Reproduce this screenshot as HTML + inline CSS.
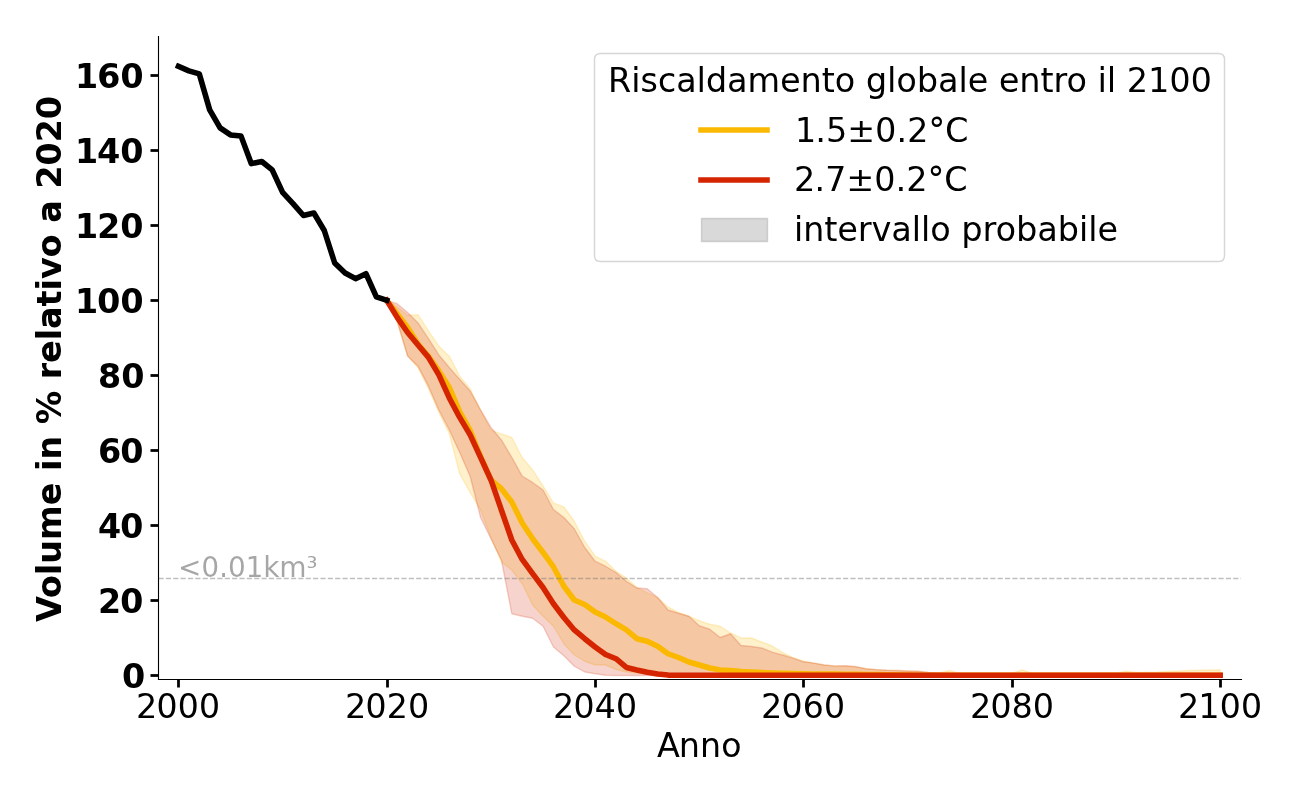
<!DOCTYPE html>
<html lang="it">
<head>
<meta charset="utf-8">
<title>Volume in % relativo a 2020</title>
<style>
html,body{margin:0;padding:0;background:#fff;}
body{width:1300px;height:800px;position:relative;overflow:hidden;font-family:"Liberation Sans",sans-serif;}
#chart{position:absolute;left:0;top:0;width:1300px;height:800px;}
.t{position:absolute;white-space:nowrap;color:transparent;text-align:center;overflow:hidden;margin:0;padding:0;}
</style>
</head>
<body>
<div id="chart">
<svg width="1300" height="800" viewBox="0 0 936 576" style="display:block;position:absolute;left:0;top:0">
 <defs>
  <style type="text/css">*{stroke-linejoin: round; stroke-linecap: butt}</style>
 </defs>
 <g id="figure_1">
  <g id="patch_1">
   <path d="M 0 576 L 936 576 L 936 0 L 0 0 z
" style="fill: #ffffff"/>
  </g>
  <g id="axes_1">
   <g id="patch_2">
    <path d="M 113.472 489.06 L 893.529 489.06 L 893.529 25.92 L 113.472 25.92 z
" style="fill: #ffffff"/>
   </g>
   <g id="FillBetweenPolyCollection_1">
    <defs>
     <path id="m04f5ab2529" d="M 278.484058 -359.765017 L 278.484058 -359.765017 L 285.984606 -344.209994 L 293.485154 -320.013292 L 300.985702 -311.083557 L 308.48625 -296.140653 L 315.986798 -279.037329 L 323.487346 -263.734356 L 330.987894 -234.928758 L 338.488442 -221.426134 L 345.98899 -208.823685 L 353.489538 -189.019837 L 360.990087 -171.376408 L 368.490635 -165.615289 L 375.991183 -155.713364 L 383.491731 -140.410391 L 390.992279 -132.308816 L 398.492827 -125.107417 L 405.993375 -112.504968 L 413.493923 -104.403394 L 420.994471 -99.902519 L 428.495019 -97.201994 L 435.995567 -97.201994 L 443.496115 -93.961364 L 450.996663 -92.161015 L 458.497212 -91.440875 L 465.99776 -90.720735 L 473.498308 -90.576707 L 480.998856 -90.432679 L 488.499404 -90.288651 L 495.999952 -90.144623 L 503.5005 -90.000595 L 511.001048 -90.000595 L 518.501596 -90.000595 L 526.002144 -90.000595 L 533.502692 -90.000595 L 541.00324 -90.000595 L 548.503788 -90.000595 L 556.004337 -90.000595 L 563.504885 -90.000595 L 571.005433 -90.000595 L 578.505981 -90.000595 L 586.006529 -90.000595 L 593.507077 -90.000595 L 601.007625 -90.000595 L 608.508173 -90.000595 L 616.008721 -90.000595 L 623.509269 -90.000595 L 631.009817 -90.000595 L 638.510365 -90.000595 L 646.010913 -90.000595 L 653.511462 -90.000595 L 661.01201 -90.000595 L 668.512558 -90.000595 L 676.013106 -90.000595 L 683.513654 -90.000595 L 691.014202 -90.000595 L 698.51475 -90.000595 L 706.015298 -90.000595 L 713.515846 -90.000595 L 721.016394 -90.000595 L 728.516942 -90.000595 L 736.01749 -90.000595 L 743.518038 -90.000595 L 751.018587 -90.000595 L 758.519135 -90.000595 L 766.019683 -90.000595 L 773.520231 -90.000595 L 781.020779 -90.000595 L 788.521327 -90.000595 L 796.021875 -90.000595 L 803.522423 -90.000595 L 811.022971 -90.000595 L 818.523519 -90.000595 L 826.024067 -90.000595 L 833.524615 -90.000595 L 841.025163 -90.000595 L 848.525712 -90.000595 L 856.02626 -90.000595 L 863.526808 -90.000595 L 871.027356 -90.000595 L 878.527904 -90.000595 L 878.527904 -93.745322 L 878.527904 -93.745322 L 871.027356 -93.57729 L 863.526808 -93.409257 L 856.02626 -93.241224 L 848.525712 -92.881155 L 841.025163 -92.521085 L 833.524615 -92.161015 L 826.024067 -91.98098 L 818.523519 -91.800945 L 811.022971 -92.665113 L 803.522423 -91.440875 L 796.021875 -91.413869 L 788.521327 -91.386864 L 781.020779 -91.359859 L 773.520231 -91.332854 L 766.019683 -91.305848 L 758.519135 -91.278843 L 751.018587 -91.251838 L 743.518038 -91.224833 L 736.01749 -93.745322 L 728.516942 -91.080805 L 721.016394 -91.080805 L 713.515846 -91.080805 L 706.015298 -91.080805 L 698.51475 -91.080805 L 691.014202 -91.080805 L 683.513654 -93.241224 L 676.013106 -91.512889 L 668.512558 -91.872959 L 661.01201 -92.665113 L 653.511462 -92.881155 L 646.010913 -93.241224 L 638.510365 -93.457266 L 631.009817 -93.88935 L 623.509269 -94.537476 L 616.008721 -95.761714 L 608.508173 -96.481854 L 601.007625 -96.481854 L 593.507077 -97.201994 L 586.006529 -98.57026 L 578.505981 -100.082554 L 571.005433 -102.53103 L 563.504885 -106.131729 L 556.004337 -110.884653 L 548.503788 -113.765213 L 541.00324 -116.645773 L 533.502692 -116.645773 L 526.002144 -120.246472 L 518.501596 -125.107417 L 511.001048 -126.547697 L 503.5005 -129.068187 L 495.999952 -132.308816 L 488.499404 -135.009341 L 480.998856 -138.970111 L 473.498308 -145.81144 L 465.99776 -149.05207 L 458.497212 -153.01284 L 450.996663 -159.854169 L 443.496115 -164.715114 L 435.995567 -171.916513 L 428.495019 -175.517213 L 420.994471 -186.319312 L 413.493923 -200.722111 L 405.993375 -210.984105 L 398.492827 -213.864665 L 390.992279 -226.107044 L 383.491731 -237.629283 L 375.991183 -246.631032 L 368.490635 -261.033831 L 360.990087 -263.554321 L 353.489538 -266.43488 L 345.98899 -280.837679 L 338.488442 -296.140653 L 330.987894 -305.142402 L 323.487346 -319.545201 L 315.986798 -326.746601 L 308.48625 -337.728735 L 300.985702 -349.467016 L 293.485154 -349.034932 L 285.984606 -355.012093 L 278.484058 -359.765017 z
" style="stroke: #fbb800; stroke-opacity: 0.2"/>
    </defs>
    <g clip-path="url(#p1fe8e6328f)">
     <use href="#m04f5ab2529" x="0" y="576" style="fill: #fbb800; fill-opacity: 0.2; stroke: #fbb800; stroke-opacity: 0.2"/>
    </g>
   </g>
   <g id="FillBetweenPolyCollection_2">
    <defs>
     <path id="m68aa60224d" d="M 278.484058 -359.765017 L 278.484058 -359.765017 L 285.984606 -344.750099 L 293.485154 -319.545201 L 300.985702 -312.343802 L 308.48625 -297.941003 L 315.986798 -280.837679 L 323.487346 -266.43488 L 330.987894 -250.231732 L 338.488442 -233.128408 L 345.98899 -203.422636 L 353.489538 -188.119662 L 360.990087 -172.816688 L 368.490635 -134.109166 L 375.991183 -132.308816 L 383.491731 -130.868536 L 390.992279 -125.107417 L 398.492827 -110.164513 L 405.993375 -103.863289 L 413.493923 -96.301819 L 420.994471 -92.161015 L 428.495019 -90.90077 L 435.995567 -89.856567 L 443.496115 -89.640525 L 450.996663 -89.640525 L 458.497212 -89.640525 L 465.99776 -89.640525 L 473.498308 -89.640525 L 480.998856 -89.640525 L 488.499404 -89.640525 L 495.999952 -89.640525 L 503.5005 -89.640525 L 511.001048 -89.640525 L 518.501596 -89.640525 L 526.002144 -89.640525 L 533.502692 -89.640525 L 541.00324 -89.640525 L 548.503788 -89.640525 L 556.004337 -89.640525 L 563.504885 -89.640525 L 571.005433 -89.640525 L 578.505981 -89.640525 L 586.006529 -89.640525 L 593.507077 -89.640525 L 601.007625 -89.640525 L 608.508173 -89.640525 L 616.008721 -89.640525 L 623.509269 -89.640525 L 631.009817 -89.640525 L 638.510365 -89.640525 L 646.010913 -89.640525 L 653.511462 -89.640525 L 661.01201 -89.640525 L 668.512558 -89.640525 L 676.013106 -89.640525 L 683.513654 -89.640525 L 691.014202 -89.640525 L 698.51475 -89.640525 L 706.015298 -89.640525 L 713.515846 -89.640525 L 721.016394 -89.640525 L 728.516942 -89.640525 L 736.01749 -89.640525 L 743.518038 -89.640525 L 751.018587 -89.640525 L 758.519135 -89.640525 L 766.019683 -89.640525 L 773.520231 -89.640525 L 781.020779 -89.640525 L 788.521327 -89.640525 L 796.021875 -89.640525 L 803.522423 -89.640525 L 811.022971 -89.640525 L 818.523519 -89.640525 L 826.024067 -89.640525 L 833.524615 -89.640525 L 841.025163 -89.640525 L 848.525712 -89.640525 L 856.02626 -89.640525 L 863.526808 -89.640525 L 871.027356 -89.640525 L 878.527904 -89.640525 L 878.527904 -90.720735 L 878.527904 -90.720735 L 871.027356 -90.720735 L 863.526808 -90.720735 L 856.02626 -90.720735 L 848.525712 -90.720735 L 841.025163 -90.720735 L 833.524615 -90.720735 L 826.024067 -90.720735 L 818.523519 -90.720735 L 811.022971 -90.720735 L 803.522423 -90.720735 L 796.021875 -90.720735 L 788.521327 -90.720735 L 781.020779 -90.720735 L 773.520231 -90.720735 L 766.019683 -90.720735 L 758.519135 -90.720735 L 751.018587 -90.720735 L 743.518038 -90.720735 L 736.01749 -90.720735 L 728.516942 -90.720735 L 721.016394 -90.780746 L 713.515846 -90.840758 L 706.015298 -90.90077 L 698.51475 -90.960781 L 691.014202 -91.020793 L 683.513654 -91.080805 L 676.013106 -91.512889 L 668.512558 -91.872959 L 661.01201 -92.665113 L 653.511462 -92.881155 L 646.010913 -93.241224 L 638.510365 -93.457266 L 631.009817 -93.88935 L 623.509269 -94.537476 L 616.008721 -96.121784 L 608.508173 -96.697896 L 601.007625 -96.553868 L 593.507077 -97.201994 L 586.006529 -98.57026 L 578.505981 -99.506442 L 571.005433 -102.098946 L 563.504885 -104.403394 L 556.004337 -106.419785 L 548.503788 -109.444373 L 541.00324 -110.524583 L 533.502692 -111.244723 L 526.002144 -119.706367 L 518.501596 -117.005843 L 511.001048 -122.946997 L 503.5005 -125.467487 L 495.999952 -132.308816 L 488.499404 -134.469236 L 480.998856 -136.809691 L 473.498308 -145.81144 L 465.99776 -152.112665 L 458.497212 -152.65277 L 450.996663 -157.513714 L 443.496115 -163.814939 L 435.995567 -168.315813 L 428.495019 -171.916513 L 420.994471 -181.818437 L 413.493923 -195.321061 L 405.993375 -203.422636 L 398.492827 -209.183755 L 390.992279 -223.226484 L 383.491731 -228.627534 L 375.991183 -233.128408 L 368.490635 -246.631032 L 360.990087 -259.233481 L 353.489538 -268.23523 L 345.98899 -280.837679 L 338.488442 -294.520338 L 330.987894 -302.873962 L 323.487346 -311.443627 L 315.986798 -320.445376 L 308.48625 -332.14765 L 300.985702 -343.489854 L 293.485154 -351.051324 L 285.984606 -357.352548 L 278.484058 -359.765017 z
" style="stroke: #d42500; stroke-opacity: 0.2"/>
    </defs>
    <g clip-path="url(#p1fe8e6328f)">
     <use href="#m68aa60224d" x="0" y="576" style="fill: #d42500; fill-opacity: 0.2; stroke: #d42500; stroke-opacity: 0.2"/>
    </g>
   </g>
   <g id="matplotlib.axis_1">
    <g id="xtick_1">
     <g id="line2d_1">
      <defs>
       <path id="mb92f15c8f1" d="M 0 0 L 0 5.76" style="stroke: #000000; stroke-width: 2"/>
      </defs>
      <g>
       <use href="#mb92f15c8f1" x="128.520000" y="489.240000" style="stroke: #000000; stroke-width: 2"/>
      </g>
     </g>
     </g>
    <g id="xtick_2">
     <g id="line2d_2">
      <g>
       <use href="#mb92f15c8f1" x="279.000000" y="489.240000" style="stroke: #000000; stroke-width: 2"/>
      </g>
     </g>
     </g>
    <g id="xtick_3">
     <g id="line2d_3">
      <g>
       <use href="#mb92f15c8f1" x="428.760000" y="489.240000" style="stroke: #000000; stroke-width: 2"/>
      </g>
     </g>
     </g>
    <g id="xtick_4">
     <g id="line2d_4">
      <g>
       <use href="#mb92f15c8f1" x="578.520000" y="489.240000" style="stroke: #000000; stroke-width: 2"/>
      </g>
     </g>
     </g>
    <g id="xtick_5">
     <g id="line2d_5">
      <g>
       <use href="#mb92f15c8f1" x="729.000000" y="489.240000" style="stroke: #000000; stroke-width: 2"/>
      </g>
     </g>
     </g>
    <g id="xtick_6">
     <g id="line2d_6">
      <g>
       <use href="#mb92f15c8f1" x="878.760000" y="489.240000" style="stroke: #000000; stroke-width: 2"/>
      </g>
     </g>
     </g>
    </g>
   <g id="matplotlib.axis_2">
    <g id="ytick_1">
     <g id="line2d_7">
      <defs>
       <path id="m4a1751d23b" d="M 0 0 L -5.76 0" style="stroke: #000000; stroke-width: 2"/>
      </defs>
      <g>
       <use href="#m4a1751d23b" x="114.120000" y="486.360000" style="stroke: #000000; stroke-width: 2"/>
      </g>
     </g>
     </g>
    <g id="ytick_2">
     <g id="line2d_8">
      <g>
       <use href="#m4a1751d23b" x="114.120000" y="432.360000" style="stroke: #000000; stroke-width: 2"/>
      </g>
     </g>
     </g>
    <g id="ytick_3">
     <g id="line2d_9">
      <g>
       <use href="#m4a1751d23b" x="114.120000" y="378.360000" style="stroke: #000000; stroke-width: 2"/>
      </g>
     </g>
     </g>
    <g id="ytick_4">
     <g id="line2d_10">
      <g>
       <use href="#m4a1751d23b" x="114.120000" y="324.360000" style="stroke: #000000; stroke-width: 2"/>
      </g>
     </g>
     </g>
    <g id="ytick_5">
     <g id="line2d_11">
      <g>
       <use href="#m4a1751d23b" x="114.120000" y="270.360000" style="stroke: #000000; stroke-width: 2"/>
      </g>
     </g>
     </g>
    <g id="ytick_6">
     <g id="line2d_12">
      <g>
       <use href="#m4a1751d23b" x="114.120000" y="216.360000" style="stroke: #000000; stroke-width: 2"/>
      </g>
     </g>
     </g>
    <g id="ytick_7">
     <g id="line2d_13">
      <g>
       <use href="#m4a1751d23b" x="114.120000" y="162.360000" style="stroke: #000000; stroke-width: 2"/>
      </g>
     </g>
     </g>
    <g id="ytick_8">
     <g id="line2d_14">
      <g>
       <use href="#m4a1751d23b" x="114.120000" y="108.360000" style="stroke: #000000; stroke-width: 2"/>
      </g>
     </g>
     </g>
    <g id="ytick_9">
     <g id="line2d_15">
      <g>
       <use href="#m4a1751d23b" x="114.120000" y="54.360000" style="stroke: #000000; stroke-width: 2"/>
      </g>
     </g>
     </g>
    </g>
   <g id="line2d_16">
    <path d="M 278.484058 216.234983 L 285.984606 226.028886 L 293.485154 235.750776 L 300.985702 247.633085 L 308.48625 256.490806 L 315.986798 267.076863 L 323.487346 278.959172 L 330.987894 296.602601 L 338.488442 309.92519 L 345.98899 328.648828 L 353.489538 345.572117 L 360.990087 351.873341 L 368.490635 361.415195 L 375.991183 376.538134 L 383.491731 387.880338 L 390.992279 397.782262 L 398.492827 408.224292 L 405.993375 422.086985 L 413.493923 431.98891 L 420.994471 435.229539 L 428.495019 440.630589 L 435.995567 444.231289 L 443.496115 449.092233 L 450.996663 453.593108 L 458.497212 459.894332 L 465.99776 461.694682 L 473.498308 465.295382 L 480.998856 470.696431 L 488.499404 473.396956 L 495.999952 476.637586 L 503.5005 478.798006 L 511.001048 480.958426 L 518.501596 482.398706 L 526.002144 482.758776 L 533.502692 483.478915 L 541.00324 483.838985 L 548.503788 484.199055 L 556.004337 484.559125 L 563.504885 484.775167 L 571.005433 484.919195 L 578.505981 485.135237 L 586.006529 485.219254 L 593.507077 485.30327 L 601.007625 485.387286 L 608.508173 485.471303 L 616.008721 485.555319 L 623.509269 485.639335 L 631.009817 485.735354 L 638.510365 485.831373 L 646.010913 485.927391 L 653.511462 486.02341 L 661.01201 486.119429 L 668.512558 486.215447 L 676.013106 486.215447 L 683.513654 486.215447 L 691.014202 486.215447 L 698.51475 486.215447 L 706.015298 486.215447 L 713.515846 486.215447 L 721.016394 486.215447 L 728.516942 486.215447 L 736.01749 486.215447 L 743.518038 486.215447 L 751.018587 486.215447 L 758.519135 486.215447 L 766.019683 486.215447 L 773.520231 486.215447 L 781.020779 486.215447 L 788.521327 486.215447 L 796.021875 486.215447 L 803.522423 486.215447 L 811.022971 486.215447 L 818.523519 486.215447 L 826.024067 486.215447 L 833.524615 486.215447 L 841.025163 486.215447 L 848.525712 486.215447 L 856.02626 486.215447 L 863.526808 486.215447 L 871.027356 486.215447 L 878.527904 486.215447 
" clip-path="url(#p1fe8e6328f)" style="fill: none; stroke: #fbb800; stroke-width: 4; stroke-linecap: square"/>
   </g>
   <g id="line2d_17">
    <path d="M 114.120000 416.520000 L 893.880000 416.520000 
" clip-path="url(#p1fe8e6328f)" style="fill: none; stroke-dasharray: 3.7,1.6; stroke-dashoffset: 0; stroke: #808080; stroke-opacity: 0.5"/>
   </g>
   <g id="line2d_18">
    <path d="M 278.484058 216.234983 L 285.984606 228.549376 L 293.485154 239.423489 L 300.985702 248.425238 L 308.48625 257.28296 L 315.986798 269.957423 L 323.487346 286.520641 L 330.987894 300.56337 L 338.488442 313.165819 L 345.98899 329.368968 L 353.489538 345.572117 L 360.990087 367.176315 L 368.490635 388.780513 L 375.991183 402.823242 L 383.491731 413.085236 L 390.992279 422.98716 L 398.492827 434.689434 L 405.993375 444.591359 L 413.493923 453.593108 L 420.994471 459.894332 L 428.495019 465.835487 L 435.995567 471.236536 L 443.496115 474.297131 L 450.996663 480.598356 L 458.497212 482.398706 L 465.99776 483.983013 L 473.498308 485.279265 L 480.998856 486.071419 L 488.499404 486.143433 L 495.999952 486.215447 L 503.5005 486.215447 L 511.001048 486.215447 L 518.501596 486.215447 L 526.002144 486.215447 L 533.502692 486.215447 L 541.00324 486.215447 L 548.503788 486.215447 L 556.004337 486.215447 L 563.504885 486.215447 L 571.005433 486.215447 L 578.505981 486.215447 L 586.006529 486.215447 L 593.507077 486.215447 L 601.007625 486.215447 L 608.508173 486.215447 L 616.008721 486.215447 L 623.509269 486.215447 L 631.009817 486.215447 L 638.510365 486.215447 L 646.010913 486.215447 L 653.511462 486.215447 L 661.01201 486.215447 L 668.512558 486.215447 L 676.013106 486.215447 L 683.513654 486.215447 L 691.014202 486.215447 L 698.51475 486.215447 L 706.015298 486.215447 L 713.515846 486.215447 L 721.016394 486.215447 L 728.516942 486.215447 L 736.01749 486.215447 L 743.518038 486.215447 L 751.018587 486.215447 L 758.519135 486.215447 L 766.019683 486.215447 L 773.520231 486.215447 L 781.020779 486.215447 L 788.521327 486.215447 L 796.021875 486.215447 L 803.522423 486.215447 L 811.022971 486.215447 L 818.523519 486.215447 L 826.024067 486.215447 L 833.524615 486.215447 L 841.025163 486.215447 L 848.525712 486.215447 L 856.02626 486.215447 L 863.526808 486.215447 L 871.027356 486.215447 L 878.527904 486.215447 
" clip-path="url(#p1fe8e6328f)" style="fill: none; stroke: #d42500; stroke-width: 4; stroke-linecap: square"/>
   </g>
   <g id="line2d_19">
    <path d="M 128.473096 47.794251 L 135.973644 51.03488 L 143.474192 53.1953 L 150.97474 79.120338 L 158.475288 92.082857 L 165.975837 97.123837 L 173.476385 97.843977 L 180.976933 117.82786 L 188.477481 116.279559 L 195.978029 122.328735 L 203.478577 138.531883 L 210.979125 146.633458 L 218.479673 155.167116 L 225.980221 153.366766 L 233.480769 165.969215 L 240.981317 189.373763 L 248.481865 196.575163 L 255.982413 200.643953 L 263.482962 197.043254 L 270.98351 213.714493 L 278.484058 216.234983 
" clip-path="url(#p1fe8e6328f)" style="fill: none; stroke: #000000; stroke-width: 4; stroke-linecap: square"/>
   </g>
   <g id="patch_3">
    <path d="M 114.120000 489.240000 L 114.120000 26.280000 
" style="fill: none; stroke: #000000; stroke-width: 0.8; stroke-linejoin: miter; stroke-linecap: square"/>
   </g>
   <g id="patch_4">
    <path d="M 114.120000 489.240000 L 893.880000 489.240000 
" style="fill: none; stroke: #000000; stroke-width: 0.8; stroke-linejoin: miter; stroke-linecap: square"/>
   </g>
   <g id="legend_1">
    <g id="patch_5">
     <path d="M 432.360000 188.280000 L 877.320000 188.280000 Q 881.640000 188.280000 881.640000 183.960000 L 881.640000 42.840000 Q 881.640000 38.520000 877.320000 38.520000 L 432.360000 38.520000 Q 428.040000 38.520000 428.040000 42.840000 L 428.040000 183.960000 Q 428.040000 188.280000 432.360000 188.280000 z
" style="fill: #ffffff; opacity: 0.8; stroke: #cccccc; stroke-linejoin: miter"/>
    </g>
    <g id="line2d_20">
     <path d="M 504.720000 93.600000 L 528.480000 93.600000 L 552.240000 93.600000" style="fill: none; stroke: #fbb800; stroke-width: 4; stroke-linecap: square"/>
    </g>
    <g id="line2d_21">
     <path d="M 504.720000 129.600000 L 528.480000 129.600000 L 552.240000 129.600000" style="fill: none; stroke: #d42500; stroke-width: 4; stroke-linecap: square"/>
    </g>
    <g id="patch_6">
     <path d="M 505.080000 173.880000 L 552.600000 173.880000 L 552.600000 157.320000 L 505.080000 157.320000 z" style="fill: #808080; fill-opacity: 0.3; stroke: #808080; stroke-opacity: 0.3; stroke-linejoin: miter"/>
    </g>
    </g>
  </g>
 </g>
 <defs>
  <clipPath id="p1fe8e6328f">
   <rect x="113.472" y="25.92" width="780.057" height="463.14"/>
  </clipPath>
 </defs>
<g transform="scale(0.72)">
<g id="text-layer"><defs><path id="r24-32" d="M6.453 -2.578L18 -2.578L18 0L2.5 0L2.5 -2.578Q4.375 -4.578 7.609 -7.938Q10.844 -11.312 11.672 -12.297Q13.25 -14.125 13.875 -15.391Q14.5 -16.656 14.5 -17.906Q14.5 -19.906 13.141 -21.156Q11.781 -22.422 9.594 -22.422Q8.047 -22.422 6.328 -21.859Q4.609 -21.312 2.656 -20.188L2.656 -23.5Q4.641 -24.25 6.359 -24.625Q8.078 -25 9.516 -25Q13.266 -25 15.5 -23.062Q17.75 -21.141 17.75 -17.938Q17.75 -16.391 17.188 -15.016Q16.625 -13.656 15.156 -11.812Q14.75 -11.328 12.578 -9.016Q10.406 -6.719 6.453 -2.578Z"/><path id="r24-30" d="M10.625 -22.422Q8.062 -22.422 6.781 -19.938Q5.5 -17.453 5.5 -12.5Q5.5 -7.531 6.781 -5.047Q8.062 -2.578 10.625 -2.578Q13.188 -2.578 14.469 -5.047Q15.75 -7.531 15.75 -12.5Q15.75 -17.453 14.469 -19.938Q13.188 -22.422 10.625 -22.422ZM10.625 -25Q14.703 -25 16.844 -21.797Q19 -18.594 19 -12.5Q19 -6.406 16.844 -3.203Q14.703 0 10.625 0Q6.547 0 4.391 -3.203Q2.25 -6.406 2.25 -12.5Q2.25 -18.594 4.391 -21.797Q6.547 -25 10.625 -25Z"/><path id="r24-34" d="M12.625 -22.062L4.297 -8.781L12.625 -8.781L12.625 -22.062ZM11.766 -25L15.875 -25L15.875 -8.781L19.375 -8.781L19.375 -6L15.875 -6L15.875 0L12.625 0L12.625 -6L1.625 -6L1.625 -9.234L11.766 -25Z"/><path id="r24-36" d="M11.062 -14.422Q8.844 -14.422 7.531 -12.828Q6.234 -11.25 6.234 -8.5Q6.234 -5.75 7.531 -4.156Q8.844 -2.578 11.062 -2.578Q13.281 -2.578 14.578 -4.156Q15.875 -5.75 15.875 -8.5Q15.875 -11.25 14.578 -12.828Q13.281 -14.422 11.062 -14.422ZM17.578 -24.094L17.578 -21.312Q16.328 -21.859 15.047 -22.141Q13.766 -22.422 12.516 -22.422Q9.219 -22.422 7.484 -20.344Q5.75 -18.281 5.75 -14.078Q6.703 -15.5 8.141 -16.25Q9.578 -17 11.297 -17Q14.922 -17 17.016 -14.719Q19.125 -12.438 19.125 -8.516Q19.125 -4.656 16.906 -2.328Q14.703 0 11.031 0Q6.828 0 4.594 -3.203Q2.375 -6.406 2.375 -12.5Q2.375 -18.203 5.109 -21.594Q7.844 -25 12.453 -25Q13.688 -25 14.938 -24.766Q16.203 -24.547 17.578 -24.094Z"/><path id="r24-38" d="M10.562 -12.422Q8.203 -12.422 6.844 -11.094Q5.5 -9.781 5.5 -7.484Q5.5 -5.203 6.844 -3.891Q8.203 -2.578 10.562 -2.578Q12.906 -2.578 14.266 -3.891Q15.625 -5.219 15.625 -7.484Q15.625 -9.781 14.266 -11.094Q12.922 -12.422 10.562 -12.422ZM7.359 -13.312Q5.234 -13.828 4.047 -15.25Q2.875 -16.688 2.875 -18.75Q2.875 -21.656 4.938 -23.328Q7.016 -25 10.625 -25Q14.25 -25 16.312 -23.391Q18.375 -21.797 18.375 -19.031Q18.375 -17.047 17.188 -15.672Q16.016 -14.312 13.922 -13.812Q16.266 -13.25 17.562 -11.578Q18.875 -9.922 18.875 -7.516Q18.875 -3.891 16.719 -1.938Q14.578 0 10.562 0Q6.547 0 4.391 -1.875Q2.25 -3.75 2.25 -7.25Q2.25 -9.562 3.609 -11.156Q4.984 -12.766 7.359 -13.312ZM6.125 -18.703Q6.125 -16.969 7.297 -15.984Q8.484 -15 10.625 -15Q12.734 -15 13.922 -15.984Q15.125 -16.969 15.125 -18.703Q15.125 -20.453 13.922 -21.438Q12.734 -22.422 10.625 -22.422Q8.484 -22.422 7.297 -21.438Q6.125 -20.453 6.125 -18.703Z"/><path id="r24-31" d="M4.125 -2.812L9.5 -2.812L9.5 -21.922L3.625 -20.703L3.625 -23.797L9.469 -25L12.75 -25L12.75 -2.812L18.125 -2.812L18.125 0L4.125 0L4.125 -2.812Z"/><path id="r24-41" d="M11.406 -21.312L6.938 -9L15.891 -9L11.406 -21.312ZM9.547 -25L13.281 -25L22.562 0L19.141 0L16.922 -6.219L5.953 -6.219L3.734 0L0.266 0L9.547 -25Z"/><path id="r24-6e" d="M18.25 -11.203L18.25 0L15.25 0L15.25 -11.141Q15.25 -13.797 14.234 -15.109Q13.234 -16.422 11.219 -16.422Q8.797 -16.422 7.391 -14.844Q6 -13.266 6 -10.531L6 0L3 0L3 -19L6 -19L6 -15.734Q7.078 -17.375 8.531 -18.188Q9.984 -19 11.891 -19Q15.031 -19 16.641 -17.016Q18.25 -15.031 18.25 -11.203Z"/><path id="r24-6f" d="M10.266 -16.422Q7.844 -16.422 6.438 -14.578Q5.031 -12.734 5.031 -9.5Q5.031 -6.266 6.422 -4.422Q7.828 -2.578 10.266 -2.578Q12.656 -2.578 14.062 -4.438Q15.469 -6.297 15.469 -9.5Q15.469 -12.688 14.062 -14.547Q12.656 -16.422 10.266 -16.422ZM10.25 -19Q14.156 -19 16.391 -16.469Q18.625 -13.953 18.625 -9.5Q18.625 -5.062 16.391 -2.531Q14.156 0 10.25 0Q6.328 0 4.094 -2.531Q1.875 -5.062 1.875 -9.5Q1.875 -13.953 4.094 -16.469Q6.328 -19 10.25 -19Z"/><path id="b24-30" d="M15.375 -12.547Q15.375 -17.078 14.516 -18.922Q13.656 -20.766 11.641 -20.766Q9.609 -20.766 8.734 -18.922Q7.875 -17.078 7.875 -12.547Q7.875 -7.984 8.734 -6.109Q9.609 -4.234 11.641 -4.234Q13.641 -4.234 14.5 -6.109Q15.375 -7.984 15.375 -12.547ZM21.625 -12.5Q21.625 -6.5 19.016 -3.25Q16.422 0 11.641 0Q6.828 0 4.219 -3.25Q1.625 -6.5 1.625 -12.5Q1.625 -18.5 4.219 -21.75Q6.828 -25 11.641 -25Q16.422 -25 19.016 -21.75Q21.625 -18.5 21.625 -12.5Z"/><path id="b24-32" d="M9.625 -4.234L20.25 -4.234L20.25 0L2.625 0L2.625 -4.234L11.531 -12.406Q12.734 -13.531 13.297 -14.594Q13.875 -15.656 13.875 -16.812Q13.875 -18.609 12.719 -19.688Q11.578 -20.766 9.656 -20.766Q8.188 -20.766 6.438 -20.109Q4.688 -19.469 2.688 -18.172L2.688 -23.578Q4.812 -24.281 6.875 -24.641Q8.938 -25 10.922 -25Q15.297 -25 17.703 -23.016Q20.125 -21.047 20.125 -17.484Q20.125 -15.453 19.094 -13.672Q18.078 -11.906 14.797 -8.938L9.625 -4.234Z"/><path id="b24-34" d="M12.25 -19.609L5.359 -9L12.25 -9L12.25 -19.609ZM11.203 -25L18.125 -25L18.125 -9L21.625 -9L21.625 -4.766L18.125 -4.766L18.125 0L12.25 0L12.25 -4.766L1.438 -4.766L1.438 -9.859L11.203 -25Z"/><path id="b24-36" d="M12.141 -12.766Q10.516 -12.766 9.688 -11.688Q8.875 -10.625 8.875 -8.5Q8.875 -6.375 9.688 -5.297Q10.516 -4.234 12.141 -4.234Q13.797 -4.234 14.609 -5.297Q15.422 -6.375 15.422 -8.5Q15.422 -10.625 14.609 -11.688Q13.797 -12.766 12.141 -12.766ZM19.891 -23.922L19.891 -19.594Q18.359 -20.188 16.984 -20.469Q15.625 -20.766 14.312 -20.766Q11.516 -20.766 9.953 -19.391Q8.406 -18.031 8.141 -15.328Q9.219 -16.156 10.469 -16.578Q11.719 -17 13.203 -17Q16.922 -17 19.203 -14.75Q21.5 -12.516 21.5 -8.875Q21.5 -4.859 18.938 -2.422Q16.375 0 12.078 0Q7.328 0 4.719 -3.172Q2.125 -6.359 2.125 -12.188Q2.125 -18.172 5.156 -21.578Q8.203 -25 13.5 -25Q15.188 -25 16.766 -24.734Q18.344 -24.469 19.891 -23.922Z"/><path id="b24-38" d="M11.594 -11.766Q9.797 -11.766 8.828 -10.781Q7.875 -9.812 7.875 -7.984Q7.875 -6.172 8.828 -5.203Q9.797 -4.234 11.594 -4.234Q13.359 -4.234 14.297 -5.203Q15.25 -6.172 15.25 -7.984Q15.25 -9.828 14.297 -10.797Q13.359 -11.766 11.594 -11.766ZM7.094 -13.312Q4.875 -13.969 3.75 -15.328Q2.625 -16.703 2.625 -18.75Q2.625 -21.797 4.906 -23.391Q7.203 -25 11.641 -25Q16.047 -25 18.328 -23.5Q20.625 -22 20.625 -19.125Q20.625 -17.188 19.5 -15.891Q18.375 -14.609 16.172 -14Q18.625 -13.281 19.875 -11.672Q21.125 -10.078 21.125 -7.625Q21.125 -3.859 18.719 -1.922Q16.312 0 11.594 0Q6.844 0 4.422 -1.828Q2 -3.672 2 -7.25Q2 -9.578 3.297 -11.094Q4.609 -12.625 7.094 -13.312ZM8.5 -18.391Q8.5 -17.234 9.297 -16.609Q10.094 -16 11.594 -16Q13.047 -16 13.828 -16.609Q14.625 -17.234 14.625 -18.391Q14.625 -19.531 13.828 -20.141Q13.047 -20.766 11.594 -20.766Q10.094 -20.766 9.297 -20.141Q8.5 -19.516 8.5 -18.391Z"/><path id="b24-31" d="M3.875 -4.234L9.5 -4.234L9.5 -20.562L3.75 -19.344L3.75 -23.781L9.469 -25L15.375 -25L15.375 -4.234L20.875 -4.234L20.875 0L3.875 0L3.875 -4.234Z"/><path id="b24-56" d="M0.156 -25L6.469 -25L12.922 -6.547L19.359 -25L25.672 -25L16.656 0L9.172 0L0.156 -25Z"/><path id="b24-6f" d="M11.438 -14.766Q9.5 -14.766 8.469 -13.406Q7.453 -12.047 7.453 -9.5Q7.453 -6.953 8.469 -5.594Q9.5 -4.234 11.438 -4.234Q13.359 -4.234 14.359 -5.594Q15.375 -6.953 15.375 -9.5Q15.375 -12.047 14.359 -13.406Q13.359 -14.766 11.438 -14.766ZM11.438 -19Q16.156 -19 18.797 -16.469Q21.453 -13.953 21.453 -9.5Q21.453 -5.047 18.797 -2.516Q16.156 0 11.438 0Q6.703 0 4.031 -2.516Q1.375 -5.047 1.375 -9.5Q1.375 -13.953 4.031 -16.469Q6.703 -19 11.438 -19Z"/><path id="b24-6c" d="M2.75 -26L8.625 -26L8.625 0L2.75 0L2.75 -26Z"/><path id="b24-75" d="M2.625 -7.688L2.625 -19L8.5 -19L8.5 -17.109Q8.5 -15.594 8.5 -13.281Q8.5 -10.969 8.5 -10.188Q8.5 -7.922 8.609 -6.922Q8.734 -5.922 9 -5.453Q9.359 -4.875 9.922 -4.547Q10.5 -4.234 11.25 -4.234Q13.062 -4.234 14.094 -5.672Q15.125 -7.125 15.125 -9.703L15.125 -19L21 -19L21 0L15.125 0L15.125 -2.828Q13.812 -1.375 12.328 -0.688Q10.859 0 9.094 0Q5.938 0 4.281 -1.969Q2.625 -3.953 2.625 -7.688Z"/><path id="b24-6d" d="M19.703 -15.469Q20.812 -17.188 22.328 -18.094Q23.859 -19 25.688 -19Q28.828 -19 30.469 -17.031Q32.125 -15.062 32.125 -11.297L32.125 0L26.25 0L26.25 -9.828Q26.25 -10.047 26.25 -10.281Q26.25 -10.531 26.25 -10.953Q26.25 -12.953 25.672 -13.859Q25.109 -14.766 23.844 -14.766Q22.188 -14.766 21.281 -13.344Q20.375 -11.938 20.375 -9.25L20.375 0L14.5 0L14.5 -9.828Q14.5 -12.953 13.969 -13.859Q13.453 -14.766 12.125 -14.766Q10.453 -14.766 9.531 -13.328Q8.625 -11.906 8.625 -9.266L8.625 0L2.75 0L2.75 -19L8.625 -19L8.625 -16.141Q9.703 -17.562 11.094 -18.281Q12.484 -19 14.172 -19Q16.062 -19 17.5 -18.062Q18.953 -17.141 19.703 -15.469Z"/><path id="b24-65" d="M21 -9.438L21 -7.766L7.344 -7.766Q7.547 -6 8.812 -5.109Q10.094 -4.234 12.375 -4.234Q14.219 -4.234 16.156 -4.703Q18.094 -5.172 20.125 -6.125L20.125 -1.719Q18.062 -0.875 15.984 -0.438Q13.906 0 11.844 0Q6.875 0 4.125 -2.5Q1.375 -5 1.375 -9.5Q1.375 -13.922 4.078 -16.453Q6.781 -19 11.516 -19Q15.828 -19 18.406 -16.391Q21 -13.797 21 -9.438ZM15 -12Q15 -13.234 14.031 -14Q13.062 -14.766 11.484 -14.766Q9.797 -14.766 8.734 -14.047Q7.672 -13.344 7.406 -12L15 -12Z"/><path id="b24-69" d="M2.75 -19L8.625 -19L8.625 0L2.75 0L2.75 -19ZM2.75 -26L8.625 -26L8.625 -21.766L2.75 -21.766L2.75 -26Z"/><path id="b24-6e" d="M21.125 -11.297L21.125 0L15.25 0L15.25 -1.875L15.25 -8.781Q15.25 -11.219 15.141 -12.141Q15.047 -13.078 14.781 -13.516Q14.438 -14.094 13.844 -14.422Q13.266 -14.766 12.531 -14.766Q10.703 -14.766 9.656 -13.297Q8.625 -11.844 8.625 -9.266L8.625 0L2.75 0L2.75 -19L8.625 -19L8.625 -16.141Q9.938 -17.609 11.422 -18.297Q12.906 -19 14.703 -19Q17.859 -19 19.484 -17.031Q21.125 -15.062 21.125 -11.297Z"/><path id="b24-25" d="M25.891 -11Q24.75 -11 24.125 -9.938Q23.5 -8.891 23.5 -6.938Q23.5 -4.969 24.109 -3.906Q24.734 -2.844 25.891 -2.844Q27.031 -2.844 27.641 -3.906Q28.25 -4.969 28.25 -6.938Q28.25 -8.891 27.625 -9.938Q27.016 -11 25.891 -11ZM25.891 -13.781Q28.906 -13.781 30.641 -11.953Q32.375 -10.125 32.375 -6.922Q32.375 -3.703 30.641 -1.844Q28.906 0 25.891 0Q22.859 0 21.109 -1.844Q19.375 -3.703 19.375 -6.922Q19.375 -10.109 21.109 -11.938Q22.859 -13.781 25.891 -13.781ZM10.922 0L7.312 0L22.578 -25L26.156 -25L10.922 0ZM7.625 -25Q10.656 -25 12.391 -23.281Q14.125 -21.578 14.125 -18.594Q14.125 -15.609 12.391 -13.875Q10.656 -12.156 7.625 -12.156Q4.594 -12.156 2.859 -13.875Q1.125 -15.609 1.125 -18.594Q1.125 -21.578 2.859 -23.281Q4.594 -25 7.625 -25ZM7.578 -22.156Q6.391 -22.156 5.75 -21.234Q5.125 -20.312 5.125 -18.594Q5.125 -16.875 5.75 -15.938Q6.391 -15 7.578 -15Q8.75 -15 9.375 -15.938Q10 -16.875 10 -18.594Q10 -20.312 9.359 -21.234Q8.734 -22.156 7.578 -22.156Z"/><path id="b24-72" d="M16.312 -14.031Q15.547 -14.406 14.797 -14.578Q14.047 -14.766 13.281 -14.766Q11.047 -14.766 9.828 -13.25Q8.625 -11.734 8.625 -8.891L8.625 0L2.75 0L2.75 -19L8.625 -19L8.625 -16.031Q9.75 -17.578 11.203 -18.281Q12.656 -19 14.688 -19Q14.984 -19 15.312 -19Q15.656 -19 16.312 -19L16.312 -14.031Z"/><path id="b24-61" d="M10.953 -9Q9.109 -9 8.172 -8.391Q7.25 -7.781 7.25 -6.578Q7.25 -5.469 8 -4.844Q8.75 -4.234 10.078 -4.234Q11.734 -4.234 12.859 -5.406Q14 -6.578 14 -8.344L14 -9L10.953 -9ZM19.875 -10.578L19.875 0L14 0L14 -3.359Q12.828 -1.609 11.344 -0.797Q9.875 0 7.766 0Q4.922 0 3.141 -1.766Q1.375 -3.531 1.375 -6.359Q1.375 -9.797 3.594 -11.391Q5.812 -13 10.547 -13L14 -13L14 -13.266Q14 -14.031 12.906 -14.391Q11.812 -14.766 9.484 -14.766Q7.609 -14.766 5.984 -14.547Q4.359 -14.344 2.969 -13.922L2.969 -17.984Q4.844 -18.484 6.734 -18.734Q8.641 -19 10.531 -19Q15.484 -19 17.672 -17.016Q19.875 -15.031 19.875 -10.578Z"/><path id="b24-74" d="M9.25 -24L9.25 -19L15.25 -19L15.25 -14.766L9.25 -14.766L9.25 -6.531Q9.25 -5.203 9.75 -4.719Q10.266 -4.234 11.75 -4.234L14.75 -4.234L14.75 0L9.734 0Q6.266 0 4.812 -1.516Q3.375 -3.031 3.375 -6.641L3.375 -14.766L0.5 -14.766L0.5 -19L3.375 -19L3.375 -24L9.25 -24Z"/><path id="b24-76" d="M0.5 -19L6.344 -19L10.891 -5.875L15.422 -19L21.266 -19L14.078 0L7.672 0L0.5 -19Z"/><path id="r20-3c" d="M20.375 -14.062L6.391 -8.938L20.375 -3.844L20.375 -1.312L3 -7.797L3 -10.109L20.375 -16.594L20.375 -14.062Z"/><path id="r20-30" d="M8.875 -18.828Q6.75 -18.828 5.688 -16.75Q4.625 -14.672 4.625 -10.5Q4.625 -6.328 5.688 -4.25Q6.75 -2.172 8.875 -2.172Q11 -2.172 12.062 -4.25Q13.125 -6.328 13.125 -10.5Q13.125 -14.672 12.062 -16.75Q11 -18.828 8.875 -18.828ZM8.875 -21Q12.281 -21 14.078 -18.312Q15.875 -15.625 15.875 -10.5Q15.875 -5.375 14.078 -2.688Q12.281 0 8.875 0Q5.469 0 3.672 -2.688Q1.875 -5.375 1.875 -10.5Q1.875 -15.625 3.672 -18.312Q5.469 -21 8.875 -21Z"/><path id="r20-2e" d="M3 -4L5.875 -4L5.875 0L3 0L3 -4Z"/><path id="r20-31" d="M3.375 -2.375L7.875 -2.375L7.875 -18.406L3 -17.391L3 -19.984L7.844 -21L10.625 -21L10.625 -2.375L15 -2.375L15 0L3.375 0L3.375 -2.375Z"/><path id="r20-6b" d="M2.5 -22L5 -22L5 -9.094L12.438 -16L15.625 -16L7.578 -8.516L15.969 0L12.703 0L5 -7.812L5 0L2.5 0L2.5 -22Z"/><path id="r20-6d" d="M14.453 -12.625Q15.391 -14.344 16.703 -15.172Q18.016 -16 19.781 -16Q22.156 -16 23.453 -14.281Q24.75 -12.578 24.75 -9.422L24.75 0L22.25 0L22.25 -9.391Q22.25 -11.641 21.469 -12.734Q20.688 -13.828 19.094 -13.828Q17.141 -13.828 16 -12.484Q14.875 -11.156 14.875 -8.875L14.875 0L12.375 0L12.375 -9.391Q12.375 -11.641 11.594 -12.734Q10.812 -13.828 9.188 -13.828Q7.266 -13.828 6.125 -12.484Q5 -11.141 5 -8.875L5 0L2.5 0L2.5 -16L5 -16L5 -13.25Q5.859 -14.656 7.047 -15.328Q8.25 -16 9.906 -16Q11.562 -16 12.719 -15.125Q13.891 -14.266 14.453 -12.625Z"/><path id="r20-b3" d="M7.047 -15.469Q8.297 -15.219 8.953 -14.453Q9.625 -13.703 9.625 -12.562Q9.625 -10.859 8.344 -9.922Q7.078 -9 4.703 -9Q3.938 -9 3.094 -9.109Q2.25 -9.234 1.312 -9.453L1.312 -11.016Q2.016 -10.594 2.812 -10.391Q3.625 -10.203 4.531 -10.203Q6 -10.203 6.812 -10.812Q7.625 -11.438 7.625 -12.5Q7.625 -13.641 6.875 -14.219Q6.125 -14.812 4.672 -14.812L3.516 -14.812L3.516 -16L4.781 -16Q6.062 -16 6.719 -16.5Q7.375 -17 7.375 -17.922Q7.375 -18.828 6.688 -19.312Q6.016 -19.797 4.734 -19.797Q4.188 -19.797 3.5 -19.656Q2.812 -19.516 1.703 -19.156L1.703 -20.609Q2.688 -20.797 3.547 -20.891Q4.422 -21 5.156 -21Q7.094 -21 8.234 -20.172Q9.375 -19.359 9.375 -18Q9.375 -17.031 8.766 -16.375Q8.156 -15.719 7.047 -15.469Z"/><path id="r24-52" d="M14.828 -11.719Q15.891 -11.359 16.891 -10.141Q17.891 -8.938 18.906 -6.828L22.25 0L18.703 0L15.578 -6.328Q14.359 -8.797 13.219 -9.609Q12.078 -10.422 10.109 -10.422L6.5 -10.422L6.5 0L3.25 0L3.25 -25L10.703 -25Q14.891 -25 16.938 -23.203Q19 -21.422 19 -17.797Q19 -15.422 17.922 -13.859Q16.859 -12.312 14.828 -11.719ZM6.5 -22.422L6.5 -13L10.672 -13Q13.062 -13 14.281 -14.188Q15.5 -15.391 15.5 -17.734Q15.5 -20.062 14.281 -21.234Q13.062 -22.422 10.672 -22.422L6.5 -22.422Z"/><path id="r24-69" d="M3.125 -19L6.125 -19L6.125 0L3.125 0L3.125 -19ZM3.125 -26L6.125 -26L6.125 -22L3.125 -22L3.125 -26Z"/><path id="r24-73" d="M14.766 -18L14.766 -15.141Q13.484 -15.781 12.094 -16.094Q10.719 -16.422 9.25 -16.422Q7 -16.422 5.875 -15.75Q4.75 -15.078 4.75 -13.719Q4.75 -12.688 5.547 -12.094Q6.359 -11.516 8.797 -10.984L9.828 -10.75Q13.047 -10.094 14.391 -8.859Q15.75 -7.641 15.75 -5.438Q15.75 -2.922 13.734 -1.453Q11.719 0 8.172 0Q6.703 0 5.109 -0.297Q3.516 -0.594 1.75 -1.172L1.75 -4.266Q3.406 -3.422 5.016 -3Q6.641 -2.578 8.219 -2.578Q10.344 -2.578 11.484 -3.281Q12.625 -4 12.625 -5.312Q12.625 -6.5 11.797 -7.141Q10.984 -7.797 8.188 -8.391L7.141 -8.625Q4.359 -9.203 3.109 -10.391Q1.875 -11.594 1.875 -13.688Q1.875 -16.234 3.703 -17.609Q5.531 -19 8.906 -19Q10.578 -19 12.047 -18.75Q13.516 -18.5 14.766 -18Z"/><path id="r24-63" d="M16.312 -17.844L16.312 -15.047Q15.047 -15.734 13.766 -16.078Q12.484 -16.422 11.188 -16.422Q8.266 -16.422 6.641 -14.609Q5.031 -12.797 5.031 -9.5Q5.031 -6.203 6.641 -4.391Q8.266 -2.578 11.188 -2.578Q12.484 -2.578 13.766 -2.922Q15.047 -3.266 16.312 -3.953L16.312 -1.188Q15.062 -0.594 13.719 -0.297Q12.375 0 10.859 0Q6.734 0 4.297 -2.562Q1.875 -5.141 1.875 -9.5Q1.875 -13.922 4.328 -16.453Q6.781 -19 11.047 -19Q12.438 -19 13.75 -18.703Q15.078 -18.422 16.312 -17.844Z"/><path id="r24-61" d="M11.406 -10Q7.797 -10 6.391 -9.125Q5 -8.266 5 -6.172Q5 -4.516 6.047 -3.547Q7.094 -2.578 8.891 -2.578Q11.375 -2.578 12.875 -4.406Q14.375 -6.25 14.375 -9.297L14.375 -10L11.406 -10ZM17.375 -10.578L17.375 0L14.375 0L14.375 -3.344Q13.359 -1.625 11.828 -0.812Q10.297 0 8.094 0Q5.297 0 3.641 -1.656Q2 -3.312 2 -6.078Q2 -9.297 4.047 -10.938Q6.109 -12.578 10.188 -12.578L14.375 -12.578L14.375 -12.828Q14.375 -14.547 13.016 -15.484Q11.672 -16.422 9.219 -16.422Q7.656 -16.422 6.172 -16.109Q4.703 -15.797 3.344 -15.172L3.344 -17.719Q4.984 -18.359 6.516 -18.672Q8.062 -19 9.531 -19Q13.484 -19 15.422 -16.906Q17.375 -14.828 17.375 -10.578Z"/><path id="r24-6c" d="M3.125 -26L6.125 -26L6.125 0L3.125 0L3.125 -26Z"/><path id="r24-64" d="M15.25 -15.734L15.25 -26L18.25 -26L18.25 0L15.25 0L15.25 -3.266Q14.297 -1.609 12.844 -0.797Q11.406 0 9.375 0Q6.047 0 3.953 -2.609Q1.875 -5.234 1.875 -9.5Q1.875 -13.766 3.953 -16.375Q6.047 -19 9.375 -19Q11.406 -19 12.844 -18.188Q14.297 -17.391 15.25 -15.734ZM5.031 -9.5Q5.031 -6.25 6.391 -4.406Q7.766 -2.578 10.141 -2.578Q12.516 -2.578 13.875 -4.406Q15.25 -6.25 15.25 -9.5Q15.25 -12.734 13.875 -14.578Q12.516 -16.422 10.141 -16.422Q7.766 -16.422 6.391 -14.578Q5.031 -12.734 5.031 -9.5Z"/><path id="r24-6d" d="M17.375 -14.984Q18.5 -17.047 20.062 -18.016Q21.641 -19 23.766 -19Q26.641 -19 28.188 -16.969Q29.75 -14.938 29.75 -11.203L29.75 0L26.75 0L26.75 -11.141Q26.75 -13.828 25.812 -15.125Q24.875 -16.422 22.953 -16.422Q20.609 -16.422 19.234 -14.844Q17.875 -13.266 17.875 -10.531L17.875 0L14.875 0L14.875 -11.141Q14.875 -13.844 13.938 -15.125Q13 -16.422 11.047 -16.422Q8.734 -16.422 7.359 -14.828Q6 -13.25 6 -10.531L6 0L3 0L3 -19L6 -19L6 -15.734Q7.031 -17.406 8.469 -18.203Q9.922 -19 11.891 -19Q13.891 -19 15.297 -17.969Q16.703 -16.938 17.375 -14.984Z"/><path id="r24-65" d="M18.75 -10.422L18.75 -9L5.031 -9Q5.031 -5.859 6.719 -4.219Q8.406 -2.578 11.422 -2.578Q13.172 -2.578 14.797 -3Q16.438 -3.438 18.047 -4.297L18.047 -1.422Q16.438 -0.734 14.75 -0.359Q13.062 0 11.328 0Q6.969 0 4.422 -2.516Q1.875 -5.047 1.875 -9.344Q1.875 -13.781 4.281 -16.391Q6.703 -19 10.797 -19Q14.469 -19 16.609 -16.688Q18.75 -14.375 18.75 -10.422ZM15.75 -11.578Q15.75 -13.797 14.391 -15.109Q13.047 -16.422 10.812 -16.422Q8.297 -16.422 6.781 -15.141Q5.266 -13.875 5.031 -11.578L15.75 -11.578Z"/><path id="r24-74" d="M6.125 -24L6.125 -19L12.25 -19L12.25 -16.422L6.125 -16.422L6.125 -6.172Q6.125 -3.859 6.734 -3.203Q7.344 -2.547 9.203 -2.547L12.25 -2.547L12.25 0L9.188 0Q5.75 0 4.438 -1.328Q3.125 -2.672 3.125 -6.203L3.125 -16.422L0.875 -16.422L0.875 -19L3.125 -19L3.125 -24L6.125 -24Z"/><path id="r24-67" d="M15.25 -9.484Q15.25 -12.781 13.906 -14.594Q12.562 -16.422 10.141 -16.422Q7.719 -16.422 6.375 -14.594Q5.031 -12.781 5.031 -9.484Q5.031 -6.203 6.375 -4.391Q7.719 -2.578 10.141 -2.578Q12.562 -2.578 13.906 -4.391Q15.25 -6.203 15.25 -9.484ZM18.25 -2.5Q18.25 2.297 16.172 4.641Q14.109 7 9.828 7Q8.25 7 6.844 6.75Q5.438 6.516 4.125 6L4.125 3.031Q5.438 3.75 6.719 4.078Q8.016 4.422 9.359 4.422Q12.312 4.422 13.781 2.875Q15.25 1.328 15.25 -1.781L15.25 -3.281Q14.312 -1.625 12.859 -0.812Q11.406 0 9.375 0Q6 0 3.938 -2.594Q1.875 -5.203 1.875 -9.484Q1.875 -13.797 3.938 -16.391Q6 -19 9.375 -19Q11.406 -19 12.859 -18.188Q14.312 -17.375 15.25 -15.719L15.25 -19L18.25 -19L18.25 -2.5Z"/><path id="r24-62" d="M16.219 -9.5Q16.219 -12.734 14.844 -14.578Q13.484 -16.422 11.109 -16.422Q8.719 -16.422 7.359 -14.578Q6 -12.734 6 -9.5Q6 -6.25 7.359 -4.406Q8.719 -2.578 11.109 -2.578Q13.484 -2.578 14.844 -4.406Q16.219 -6.25 16.219 -9.5ZM6 -15.734Q6.953 -17.391 8.391 -18.188Q9.844 -19 11.859 -19Q15.203 -19 17.281 -16.375Q19.375 -13.766 19.375 -9.5Q19.375 -5.234 17.281 -2.609Q15.203 0 11.859 0Q9.844 0 8.391 -0.797Q6.953 -1.609 6 -3.266L6 0L3 0L3 -26L6 -26L6 -15.734Z"/><path id="r24-72" d="M13.688 -15.844Q13.188 -16.141 12.578 -16.281Q11.984 -16.422 11.281 -16.422Q8.719 -16.422 7.359 -14.719Q6 -13.031 6 -9.844L6 0L3 0L3 -19L6 -19L6 -15.797Q6.953 -17.422 8.469 -18.203Q9.984 -19 12.172 -19Q12.484 -19 12.859 -19Q13.234 -19 13.688 -19L13.688 -15.844Z"/><path id="r24-2e" d="M3.625 -4L7.125 -4L7.125 0L3.625 0L3.625 -4Z"/><path id="r24-35" d="M3.625 -25L16.609 -25L16.609 -22.422L6.625 -22.422L6.625 -16.125Q7.344 -16.359 8.062 -16.469Q8.781 -16.578 9.5 -16.578Q13.594 -16.578 15.984 -14.344Q18.375 -12.109 18.375 -8.297Q18.375 -4.359 15.922 -2.172Q13.484 0 9.031 0Q7.5 0 5.906 -0.234Q4.328 -0.484 2.625 -0.969L2.625 -4.219Q4.094 -3.391 5.656 -2.984Q7.234 -2.578 8.984 -2.578Q11.828 -2.578 13.469 -4.109Q15.125 -5.656 15.125 -8.297Q15.125 -10.922 13.469 -12.453Q11.812 -14 8.969 -14Q7.641 -14 6.312 -13.688Q5 -13.391 3.625 -12.75L3.625 -25Z"/><path id="r24-b1" d="M15.375 -21L15.375 -14.578L24.375 -14.578L24.375 -12L15.375 -12L15.375 -5L12.625 -5L12.625 -12L3.5 -12L3.5 -14.578L12.625 -14.578L12.625 -21L15.375 -21ZM3.5 -2.578L24.375 -2.578L24.375 0L3.5 0L3.5 -2.578Z"/><path id="r24-b0" d="M8.312 -23Q7.031 -23 6.141 -22.203Q5.25 -21.422 5.25 -20.266Q5.25 -19.141 6.141 -18.359Q7.031 -17.578 8.312 -17.578Q9.609 -17.578 10.484 -18.359Q11.375 -19.141 11.375 -20.266Q11.375 -21.406 10.484 -22.203Q9.594 -23 8.312 -23ZM8.312 -25.578Q9.359 -25.578 10.328 -25.172Q11.297 -24.766 12 -24Q12.75 -23.25 13.125 -22.297Q13.5 -21.344 13.5 -20.25Q13.5 -18.047 11.984 -16.516Q10.469 -15 8.281 -15Q6.078 -15 4.594 -16.5Q3.125 -18 3.125 -20.25Q3.125 -22.484 4.625 -24.031Q6.141 -25.578 8.312 -25.578Z"/><path id="r24-43" d="M21.5 -22.797L21.5 -19.344Q19.844 -20.891 17.953 -21.656Q16.078 -22.422 13.969 -22.422Q9.797 -22.422 7.578 -19.859Q5.375 -17.312 5.375 -12.5Q5.375 -7.688 7.578 -5.125Q9.797 -2.578 13.969 -2.578Q16.078 -2.578 17.953 -3.344Q19.844 -4.109 21.5 -5.656L21.5 -2.234Q19.781 -1.125 17.844 -0.562Q15.906 0 13.766 0Q8.234 0 5.047 -3.344Q1.875 -6.703 1.875 -12.5Q1.875 -18.297 5.047 -21.641Q8.234 -25 13.766 -25Q15.938 -25 17.875 -24.453Q19.812 -23.906 21.5 -22.797Z"/><path id="r24-37" d="M2.75 -25L18.375 -25L18.375 -23.703L9.547 0L6.125 0L14.422 -22.422L2.75 -22.422L2.75 -25Z"/><path id="r24-76" d="M1 -19L4.172 -19L9.875 -3.047L15.578 -19L18.766 -19L11.906 0L7.844 0L1 -19Z"/><path id="r24-70" d="M6 -3.266L6 7L3 7L3 -19L6 -19L6 -15.734Q6.953 -17.391 8.391 -18.188Q9.844 -19 11.859 -19Q15.203 -19 17.281 -16.375Q19.375 -13.766 19.375 -9.5Q19.375 -5.234 17.281 -2.609Q15.203 0 11.859 0Q9.844 0 8.391 -0.797Q6.953 -1.609 6 -3.266ZM16.219 -9.5Q16.219 -12.734 14.844 -14.578Q13.484 -16.422 11.109 -16.422Q8.719 -16.422 7.359 -14.578Q6 -12.734 6 -9.5Q6 -6.25 7.359 -4.406Q8.719 -2.578 11.109 -2.578Q13.484 -2.578 14.844 -4.406Q16.219 -6.25 16.219 -9.5Z"/></defs>
<g style="fill:#000000"><use href="#r24-32" x="136" y="718"/><use href="#r24-30" x="156.375" y="718"/><use href="#r24-30" x="177.625" y="718"/><use href="#r24-30" x="198.875" y="718"/></g>
<g style="fill:#000000"><use href="#r24-32" x="345" y="718"/><use href="#r24-30" x="365.375" y="718"/><use href="#r24-32" x="386.625" y="718"/><use href="#r24-30" x="408" y="718"/></g>
<g style="fill:#000000"><use href="#r24-32" x="553" y="718"/><use href="#r24-30" x="573.375" y="718"/><use href="#r24-34" x="594.625" y="718"/><use href="#r24-30" x="615.875" y="718"/></g>
<g style="fill:#000000"><use href="#r24-32" x="761" y="718"/><use href="#r24-30" x="781.375" y="718"/><use href="#r24-36" x="802.625" y="718"/><use href="#r24-30" x="823.875" y="718"/></g>
<g style="fill:#000000"><use href="#r24-32" x="970" y="718"/><use href="#r24-30" x="990.375" y="718"/><use href="#r24-38" x="1011.625" y="718"/><use href="#r24-30" x="1032.75" y="718"/></g>
<g style="fill:#000000"><use href="#r24-32" x="1178" y="718"/><use href="#r24-31" x="1198.375" y="718"/><use href="#r24-30" x="1219.625" y="718"/><use href="#r24-30" x="1240.875" y="718"/></g>
<g style="fill:#000000"><use href="#r24-41" x="657" y="757"/><use href="#r24-6e" x="678.875" y="757"/><use href="#r24-6e" x="700" y="757"/><use href="#r24-6f" x="721.125" y="757"/></g>
<g style="fill:#000000"><use href="#b24-30" x="122" y="688"/></g>
<g style="fill:#000000"><use href="#b24-32" x="98" y="613"/><use href="#b24-30" x="120.125" y="613"/></g>
<g style="fill:#000000"><use href="#b24-34" x="98" y="538"/><use href="#b24-30" x="120.125" y="538"/></g>
<g style="fill:#000000"><use href="#b24-36" x="98" y="463"/><use href="#b24-30" x="120.25" y="463"/></g>
<g style="fill:#000000"><use href="#b24-38" x="98" y="388"/><use href="#b24-30" x="121.25" y="388"/></g>
<g style="fill:#000000"><use href="#b24-31" x="75" y="313"/><use href="#b24-30" x="97.125" y="313"/><use href="#b24-30" x="120.375" y="313"/></g>
<g style="fill:#000000"><use href="#b24-31" x="75" y="238"/><use href="#b24-32" x="97.125" y="238"/><use href="#b24-30" x="120.25" y="238"/></g>
<g style="fill:#000000"><use href="#b24-31" x="75" y="163"/><use href="#b24-34" x="97.125" y="163"/><use href="#b24-30" x="120.25" y="163"/></g>
<g style="fill:#000000"><use href="#b24-31" x="75" y="88"/><use href="#b24-36" x="97.125" y="88"/><use href="#b24-30" x="120.375" y="88"/></g>
<g style="fill:#000000" transform="translate(61 622) rotate(-90)"><use href="#b24-56" x="0" y="0"/><use href="#b24-6f" x="24" y="0"/><use href="#b24-6c" x="46.875" y="0"/><use href="#b24-75" x="58.25" y="0"/><use href="#b24-6d" x="82" y="0"/><use href="#b24-65" x="116.75" y="0"/><use href="#b24-69" x="151" y="0"/><use href="#b24-6e" x="162.375" y="0"/><use href="#b24-25" x="197.75" y="0"/><use href="#b24-72" x="242.75" y="0"/><use href="#b24-65" x="259.125" y="0"/><use href="#b24-6c" x="281.75" y="0"/><use href="#b24-61" x="293.125" y="0"/><use href="#b24-74" x="315.625" y="0"/><use href="#b24-69" x="331.625" y="0"/><use href="#b24-76" x="343" y="0"/><use href="#b24-6f" x="364.75" y="0"/><use href="#b24-61" x="399.25" y="0"/><use href="#b24-32" x="433.375" y="0"/><use href="#b24-30" x="456.5" y="0"/><use href="#b24-32" x="479.75" y="0"/><use href="#b24-30" x="502.875" y="0"/></g>
<g style="fill:#808080;fill-opacity:0.7"><use href="#r20-3c" x="178" y="577"/><use href="#r20-30" x="201.375" y="577"/><use href="#r20-2e" x="219.125" y="577"/><use href="#r20-30" x="228" y="577"/><use href="#r20-31" x="245.75" y="577"/><use href="#r20-6b" x="263.375" y="577"/><use href="#r20-6d" x="279.375" y="577"/><use href="#r20-b3" x="306.5" y="577"/></g>
<g style="fill:#000000"><use href="#r24-52" x="608" y="92"/><use href="#r24-69" x="631.25" y="92"/><use href="#r24-73" x="640.5" y="92"/><use href="#r24-63" x="657.875" y="92"/><use href="#r24-61" x="676.25" y="92"/><use href="#r24-6c" x="696.625" y="92"/><use href="#r24-64" x="705.875" y="92"/><use href="#r24-61" x="727.125" y="92"/><use href="#r24-6d" x="747.5" y="92"/><use href="#r24-65" x="780.125" y="92"/><use href="#r24-6e" x="800.625" y="92"/><use href="#r24-74" x="821.75" y="92"/><use href="#r24-6f" x="834.75" y="92"/><use href="#r24-67" x="865.875" y="92"/><use href="#r24-6c" x="887.125" y="92"/><use href="#r24-6f" x="896.375" y="92"/><use href="#r24-62" x="916.875" y="92"/><use href="#r24-61" x="938.125" y="92"/><use href="#r24-6c" x="958.5" y="92"/><use href="#r24-65" x="967.75" y="92"/><use href="#r24-65" x="998.875" y="92"/><use href="#r24-6e" x="1019.375" y="92"/><use href="#r24-74" x="1040.5" y="92"/><use href="#r24-72" x="1053.5" y="92"/><use href="#r24-6f" x="1066.5" y="92"/><use href="#r24-69" x="1097.625" y="92"/><use href="#r24-6c" x="1106.875" y="92"/><use href="#r24-32" x="1126.75" y="92"/><use href="#r24-31" x="1148.125" y="92"/><use href="#r24-30" x="1169.375" y="92"/><use href="#r24-30" x="1190.625" y="92"/></g>
<g style="fill:#000000"><use href="#r24-31" x="795" y="142"/><use href="#r24-2e" x="815.25" y="142"/><use href="#r24-35" x="826" y="142"/><use href="#r24-b1" x="847.25" y="142"/><use href="#r24-30" x="875.125" y="142"/><use href="#r24-2e" x="896.375" y="142"/><use href="#r24-32" x="907.125" y="142"/><use href="#r24-b0" x="928.5" y="142"/><use href="#r24-43" x="945.125" y="142"/></g>
<g style="fill:#000000"><use href="#r24-32" x="794" y="191"/><use href="#r24-2e" x="814.375" y="191"/><use href="#r24-37" x="825.125" y="191"/><use href="#r24-b1" x="846.375" y="191"/><use href="#r24-30" x="874.25" y="191"/><use href="#r24-2e" x="895.5" y="191"/><use href="#r24-32" x="906.25" y="191"/><use href="#r24-b0" x="927.625" y="191"/><use href="#r24-43" x="944.25" y="191"/></g>
<g style="fill:#000000"><use href="#r24-69" x="794" y="241"/><use href="#r24-6e" x="803.25" y="241"/><use href="#r24-74" x="824.375" y="241"/><use href="#r24-65" x="837.375" y="241"/><use href="#r24-72" x="857.875" y="241"/><use href="#r24-76" x="871.625" y="241"/><use href="#r24-61" x="891.375" y="241"/><use href="#r24-6c" x="911.75" y="241"/><use href="#r24-6c" x="921" y="241"/><use href="#r24-6f" x="930.25" y="241"/><use href="#r24-70" x="961.375" y="241"/><use href="#r24-72" x="982.625" y="241"/><use href="#r24-6f" x="995.625" y="241"/><use href="#r24-62" x="1016.125" y="241"/><use href="#r24-61" x="1037.375" y="241"/><use href="#r24-62" x="1057.75" y="241"/><use href="#r24-69" x="1079" y="241"/><use href="#r24-6c" x="1088.25" y="241"/><use href="#r24-65" x="1097.5" y="241"/></g>
</g>
</g>
</svg>

<div id="labels">
<span class="t ytick" style="left:121.2px;top:662.5px;width:23.2px;height:33.0px;font-size:33.3px;line-height:33.0px;font-weight:bold;">0</span>
<span class="t ytick" style="left:98.0px;top:587.5px;width:46.4px;height:33.0px;font-size:33.3px;line-height:33.0px;font-weight:bold;">20</span>
<span class="t ytick" style="left:98.0px;top:512.5px;width:46.4px;height:33.0px;font-size:33.3px;line-height:33.0px;font-weight:bold;">40</span>
<span class="t ytick" style="left:97.9px;top:437.5px;width:46.5px;height:33.0px;font-size:33.3px;line-height:33.0px;font-weight:bold;">60</span>
<span class="t ytick" style="left:97.9px;top:362.4px;width:46.5px;height:33.0px;font-size:33.3px;line-height:33.0px;font-weight:bold;">80</span>
<span class="t ytick" style="left:74.8px;top:287.4px;width:69.6px;height:33.0px;font-size:33.3px;line-height:33.0px;font-weight:bold;">100</span>
<span class="t ytick" style="left:74.9px;top:212.4px;width:69.5px;height:33.0px;font-size:33.3px;line-height:33.0px;font-weight:bold;">120</span>
<span class="t ytick" style="left:74.9px;top:137.4px;width:69.5px;height:33.0px;font-size:33.3px;line-height:33.0px;font-weight:bold;">140</span>
<span class="t ytick" style="left:74.8px;top:62.4px;width:69.6px;height:33.0px;font-size:33.3px;line-height:33.0px;font-weight:bold;">160</span>
<span class="t xtick" style="left:135.9px;top:692.4px;width:85.1px;height:33.0px;font-size:33.3px;line-height:33.0px;">2000</span>
<span class="t xtick" style="left:344.2px;top:692.4px;width:85.2px;height:33.0px;font-size:33.3px;line-height:33.0px;">2020</span>
<span class="t xtick" style="left:552.6px;top:692.4px;width:85.1px;height:33.0px;font-size:33.3px;line-height:33.0px;">2040</span>
<span class="t xtick" style="left:760.9px;top:692.4px;width:85.1px;height:33.0px;font-size:33.3px;line-height:33.0px;">2060</span>
<span class="t xtick" style="left:969.3px;top:692.4px;width:85.0px;height:33.0px;font-size:33.3px;line-height:33.0px;">2080</span>
<span class="t xtick" style="left:1177.6px;top:692.4px;width:85.1px;height:33.0px;font-size:33.3px;line-height:33.0px;">2100</span>
<span class="t xlabel" style="left:656.5px;top:731.0px;width:85.6px;height:33.0px;font-size:33.3px;line-height:33.0px;">Anno</span>
<span class="t ylabel" style="left:-210.3px;top:341.1px;width:526.1px;height:33.0px;font-size:33.3px;line-height:33.0px;transform:rotate(-90deg);font-weight:bold;">Volume in % relativo a 2020</span>
<span class="t note" style="left:178.4px;top:555.0px;width:139.5px;height:28.0px;font-size:27.8px;line-height:28.0px;">&lt;0.01km³</span>
<span class="t legend-title" style="left:607.1px;top:66.0px;width:603.9px;height:33.0px;font-size:33.3px;line-height:33.0px;">Riscaldamento globale entro il 2100</span>
<span class="t legend-item" style="left:793.7px;top:115.7px;width:174.4px;height:33.0px;font-size:33.3px;line-height:33.0px;">1.5±0.2°C</span>
<span class="t legend-item" style="left:793.7px;top:165.3px;width:174.5px;height:33.0px;font-size:33.3px;line-height:33.0px;">2.7±0.2°C</span>
<span class="t legend-item" style="left:793.7px;top:215.0px;width:324.0px;height:33.0px;font-size:33.3px;line-height:33.0px;">intervallo probabile</span>
</div>
</div>
</body>
</html>
